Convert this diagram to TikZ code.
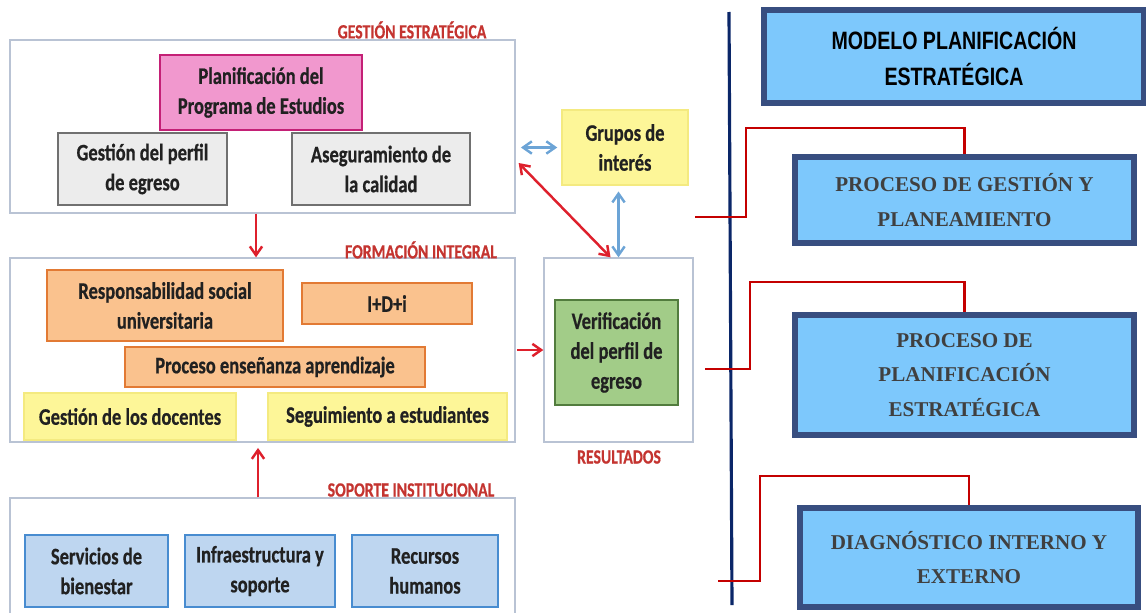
\documentclass[tikz,border=0pt]{standalone}
\usepackage{fontspec}
\usepackage{tikz}
\usetikzlibrary{
  arrows.meta,
  calc,
  positioning
}
\newfontfamily\calib[FakeStretch=0.78, BoldFeatures={FakeStretch=0.78, FakeBold=0.6}]{Carlito}
\newfontfamily\narrowsans[FakeStretch=0.78]{Liberation Sans}
\newfontfamily\timesf{Liberation Serif}
\definecolor{framegray}{RGB}{185,195,212}
\definecolor{labelred}{RGB}{196,52,48}
\definecolor{pinkfill}{RGB}{241,152,206}
\definecolor{pinkline}{RGB}{196,32,118}
\definecolor{grayfill}{RGB}{236,236,236}
\definecolor{grayline}{RGB}{112,112,112}
\definecolor{orangefill}{RGB}{250,194,142}
\definecolor{orangeline}{RGB}{226,122,52}
\definecolor{yellowfill}{RGB}{253,246,152}
\definecolor{yellowline}{RGB}{244,234,128}
\definecolor{bluefill}{RGB}{190,214,240}
\definecolor{blueline}{RGB}{72,140,208}
\definecolor{greenfill}{RGB}{162,204,136}
\definecolor{greenline}{RGB}{82,124,62}
\definecolor{arrowred}{RGB}{222,32,44}
\definecolor{arrowblue}{RGB}{108,164,214}
\definecolor{skyfill}{RGB}{125,200,252}
\definecolor{modelline}{RGB}{56,78,128}
\definecolor{axisnavy}{RGB}{10,38,104}
\definecolor{linkred}{RGB}{196,0,0}
\definecolor{serifgray}{RGB}{64,64,64}

\begin{document}
\begin{tikzpicture}[x=0.02cm, y=-0.02cm,
  frame/.style={draw=framegray, line width=0.8pt, fill=white, inner sep=0pt},
  area/.style={font=\calib\bfseries\fontsize{11.5}{13}\selectfont, text=labelred},
  inbox/.style={draw, line width=1.4pt, align=center, inner sep=2pt,
    font=\calib\bfseries\fontsize{13.5}{17}\selectfont, text=black!87},
  redarr/.style={draw=arrowred, line width=1.4pt, -{Straight Barb[length=5pt,width=7pt]}},
  bluearr/.style={draw=arrowblue, line width=1.4pt, {Straight Barb[length=5pt,width=7pt]}-{Straight Barb[length=5pt,width=7pt]}},
  modelbox/.style={draw=modelline, fill=skyfill, line width=3.4pt, align=center, inner sep=2pt},
  procfont/.style={font=\timesf\bfseries\fontsize{12}{19.5}\selectfont, text=serifgray},
  link/.style={draw=linkred, line width=1.2pt}]
  \useasboundingbox (0,0) rectangle (1146,612);
  % Left: frames
  \node[frame, minimum width=10.1cm, minimum height=3.46cm] (ge) at (262.5,126.5) {};
  \node[frame, minimum width=10.1cm, minimum height=3.68cm] (fi) at (262.5,350) {};
  \node[frame, minimum width=10.1cm, minimum height=2.36cm] (si) at (262.5,557) {};
  \node[frame, minimum width=2.98cm, minimum height=3.68cm] (res) at (618.5,350) {};
  \node[area] (geLabel) at (412,30) {GESTIÓN ESTRATÉGICA};
  \node[area] (fiLabel) at (421,250) {FORMACIÓN INTEGRAL};
  \node[area] (siLabel) at (411,490) {SOPORTE INSTITUCIONAL};
  \node[area] (resLabel) at (619,457) {RESULTADOS};
  % Gestion estrategica
  \node[inbox, fill=pinkfill, draw=pinkline, minimum width=4.04cm, minimum height=1.5cm] (plan) at (261,92.5) {Planificación del\\Programa de Estudios};
  \node[inbox, fill=grayfill, draw=grayline, minimum width=3.38cm, minimum height=1.44cm] (perfil) at (142.5,169) {Gestión del perfil\\de egreso};
  \node[inbox, fill=grayfill, draw=grayline, minimum width=3.56cm, minimum height=1.44cm] (calidad) at (381,169) {Aseguramiento de\\la calidad};
  % Formacion integral
  \node[inbox, fill=orangefill, draw=orangeline, minimum width=4.72cm, minimum height=1.42cm] (rsu) at (165,305.5) {Responsabilidad social\\universitaria};
  \node[inbox, fill=orangefill, draw=orangeline, minimum width=3.4cm, minimum height=0.82cm] (idi) at (387,303.5) {I+D+i};
  \node[inbox, fill=orangefill, draw=orangeline, minimum width=6.0cm, minimum height=0.8cm] (ensenanza) at (275,367) {Proceso enseñanza aprendizaje};
  \node[inbox, fill=yellowfill, draw=yellowline, minimum width=4.24cm, minimum height=0.94cm] (docentes) at (130,416.5) {Gestión de los docentes};
  \node[inbox, fill=yellowfill, draw=yellowline, minimum width=4.78cm, minimum height=0.94cm] (seguim) at (387.5,416.5) {Seguimiento a estudiantes};
  % Soporte institucional
  \node[inbox, fill=bluefill, draw=blueline, minimum width=2.86cm, minimum height=1.44cm] (bienestar) at (96.5,571) {Servicios de\\bienestar};
  \node[inbox, fill=bluefill, draw=blueline, minimum width=3.0cm, minimum height=1.44cm] (infra) at (260,571) {Infraestructura y\\soporte};
  \node[inbox, fill=bluefill, draw=blueline, minimum width=2.92cm, minimum height=1.44cm] (rrhh) at (425,571) {Recursos\\humanos};
  % Resultados
  \node[inbox, fill=greenfill, draw=greenline, minimum width=2.46cm, minimum height=2.1cm] (verif) at (616.5,352.5) {Verificación\\del perfil de\\egreso};
  \node[inbox, fill=yellowfill, draw=yellowline, minimum width=2.52cm, minimum height=1.5cm] (grupos) at (625,147.5) {Grupos de\\interés};
  % Arrows
  \coordinate (downX) at (256,0);
  \coordinate (upX) at (258,0);
  \draw[redarr] (ge.south -| downX) -- (fi.north -| downX);
  \draw[redarr] (si.north -| upX) -- ([yshift=-3pt]fi.south -| upX);
  \draw[redarr] ([xshift=1pt]fi.east) -- (res.west);
  \draw[bluearr] ([xshift=-2pt]grupos.west) -- ([xshift=3pt]grupos.west -| ge.east);
  \draw[bluearr] ([yshift=-3pt]res.north |- grupos.south) -- (res.north);
  \draw[arrowred, line width=1.4pt, {Straight Barb[length=5pt,width=7pt]}-{Straight Barb[length=5pt,width=7pt]}] ($(ge.east)+(3,36.5)$) -- ($(res.north)+(-8,0)$);
  % Right: model
  \coordinate (axTop) at (729,12);
  \coordinate (axBot) at (732,605);
  \draw[axisnavy, line width=1.8pt] (axTop) -- (axBot);
  \node[modelbox, minimum width=7.6cm, minimum height=1.86cm, font=\narrowsans\bfseries\fontsize{14.3}{21}\selectfont] (modelo) at (954,56.5) {MODELO PLANIFICACIÓN\\ESTRATÉGICA};
  \node[modelbox, procfont, minimum width=6.78cm, minimum height=1.72cm] (gestion) at (964.5,200) {PROCESO DE GESTIÓN Y\\PLANEAMIENTO};
  \node[modelbox, procfont, minimum width=6.78cm, minimum height=2.4cm] (planif) at (964.5,375) {PROCESO DE\\PLANIFICACIÓN\\ESTRATÉGICA};
  \node[modelbox, procfont, minimum width=6.76cm, minimum height=1.98cm] (diag) at (969,557.5) {DIAGNÓSTICO INTERNO Y\\EXTERNO};
  % Links
  \coordinate (k1) at (746,128);
  \coordinate (e1) at (695,217);
  \coordinate (k2) at (750,282);
  \coordinate (e2) at (705,369);
  \coordinate (k3) at (760,476);
  \coordinate (e3) at (718,581);
  \draw[link] (gestion.north) |- (k1) |- (e1);
  \draw[link] (planif.north) |- (k2) |- (e2);
  \draw[link] (diag.north) |- (k3) |- (e3);
\end{tikzpicture}
\end{document}
